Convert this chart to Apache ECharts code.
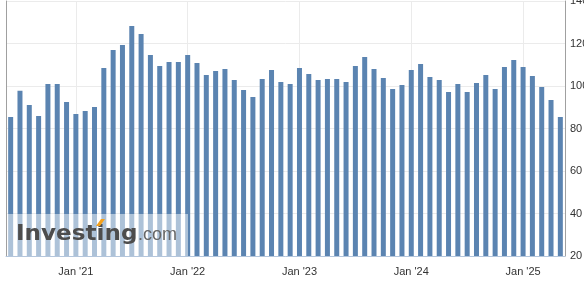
<!DOCTYPE html>
<html>
<head>
<meta charset="utf-8">
<script src="https://cdn.jsdelivr.net/npm/echarts@6/dist/echarts.min.js"></script>
<style>html,body{margin:0;padding:0;background:#fff;}#c{width:584px;height:281px;}</style>
</head>
<body>
<div id="c"></div>
<script>
var categories = [
  "Jun '20","Jul '20","Aug '20","Sep '20","Oct '20","Nov '20","Dec '20",
  "Jan '21","Feb '21","Mar '21","Apr '21","May '21","Jun '21","Jul '21","Aug '21","Sep '21","Oct '21","Nov '21","Dec '21",
  "Jan '22","Feb '22","Mar '22","Apr '22","May '22","Jun '22","Jul '22","Aug '22","Sep '22","Oct '22","Nov '22","Dec '22",
  "Jan '23","Feb '23","Mar '23","Apr '23","May '23","Jun '23","Jul '23","Aug '23","Sep '23","Oct '23","Nov '23","Dec '23",
  "Jan '24","Feb '24","Mar '24","Apr '24","May '24","Jun '24","Jul '24","Aug '24","Sep '24","Oct '24","Nov '24","Dec '24",
  "Jan '25","Feb '25","Mar '25","Apr '25","May '25"
];
var values = [
  85.4, 97.8, 91.1, 85.9, 100.9, 100.9, 92.5,
  86.8, 88.2, 90.1, 108.5, 116.9, 119.3, 128.2, 124.5, 114.6, 109.4, 111.3, 111.3,
  114.6, 110.8, 105.2, 107.1, 108.0, 102.8, 98.1, 94.8, 103.3, 107.5, 101.9, 100.9,
  108.5, 105.6, 102.8, 103.3, 103.3, 101.9, 109.4, 113.6, 108.0, 103.8, 98.6, 100.5,
  107.5, 110.4, 104.2, 102.8, 97.2, 100.9, 97.2, 101.4, 105.2, 98.6, 108.9, 112.2,
  108.9, 104.7, 99.5, 93.4, 85.4
];
var yTicks = [20, 40, 60, 80, 100, 120, 140];
var janCategories = ["Jan '21", "Jan '22", "Jan '23", "Jan '24", "Jan '25"];

var chart = echarts.init(document.getElementById('c'), null, {renderer: 'canvas'});
var font = 'Arial, "Liberation Sans", sans-serif';
chart.setOption({
  animation: false,
  backgroundColor: '#ffffff',
  grid: {left: 6, right: 19, top: 1, bottom: 25, containLabel: false, outerBoundsMode: 'none'},
  xAxis: {
    type: 'category',
    data: categories,
    boundaryGap: true,
    axisLine: {show: true, lineStyle: {color: '#b4c6dc', width: 1}},
    axisTick: {show: false},
    splitLine: {show: false},
    axisLabel: {
      interval: function (i, v) { return janCategories.indexOf(v) >= 0; },
      color: '#333333', fontSize: 11, fontFamily: font, margin: 10
    }
  },
  yAxis: [{
    type: 'value', position: 'right', min: yTicks[0], max: yTicks[yTicks.length - 1], interval: 20,
    axisLine: {show: true, lineStyle: {color: '#a0a0a0'}},
    axisTick: {show: false},
    splitLine: {show: true, lineStyle: {color: '#ebebeb', width: 1}},
    axisLabel: {color: '#333333', fontSize: 11, fontFamily: font, margin: 5}
  }, {
    type: 'value', position: 'left', min: yTicks[0], max: yTicks[yTicks.length - 1], interval: 20,
    axisLine: {show: true, lineStyle: {color: '#a0a0a0'}},
    axisTick: {show: false}, axisLabel: {show: false}, splitLine: {show: false}
  }],
  series: [{
    type: 'line', data: [], z: 1, silent: true,
    markLine: {
      silent: true, symbol: 'none', label: {show: false}, z: 1,
      lineStyle: {color: '#ebebeb', type: 'solid', width: 1},
      data: janCategories.map(function (c) { return {xAxis: c}; })
    }
  }, {
    type: 'bar', data: values, z: 3, barWidth: 5,
    itemStyle: {color: '#5b84b1'}
  }],
  graphic: [
    {type: 'rect', z: 100, shape: {x: 8, y: 214, width: 180, height: 42}, style: {fill: 'rgba(255,255,255,0.5)'}},
    {type: 'text', z: 101, x: 16, y: 234.8, scaleX: 1.1, style: {text: 'Investing', font: 'bold 21px "DejaVu Sans"', fill: '#4d4d4d', verticalAlign: 'middle', align: 'left'}},
    {type: 'polygon', z: 102, shape: {points: [[96, 226], [101, 219], [105, 219], [100, 226]]}, style: {fill: '#f5a11c'}},
    {type: 'text', z: 101, x: 138, y: 235.4, style: {text: '.com', font: '18px "Liberation Sans"', fill: '#666666', verticalAlign: 'middle', align: 'left'}}
  ]
});
</script>
</body>
</html>
